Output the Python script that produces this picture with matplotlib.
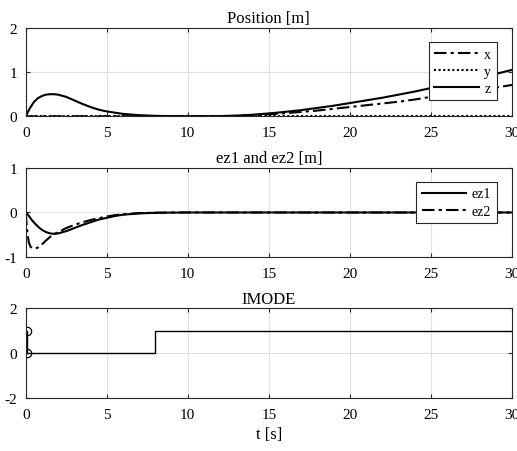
import matplotlib

matplotlib.use("Agg")
import matplotlib.pyplot as plt

plt.rcParams["font.family"] = ["Liberation Serif", "DejaVu Serif"]
plt.rcParams["font.size"] = 10
plt.rcParams["axes.unicode_minus"] = False  # reference uses plain hyphens

# --- data ---
t_pos = [0, 0.25, 0.5, 0.75, 1, 1.25, 1.5, 1.75, 2, 2.5, 3, 3.5, 4, 4.5, 5, 6, 7, 8,
         9, 10, 11, 12, 13, 14, 15, 16, 17, 18, 19, 20, 21, 22, 23, 24, 25, 26, 27,
         28, 29, 30]
pos_x = [0, 0, 0, 0, 0, 0, 0, 0, 0, 0, 0, 0, 0, 0, 0, 0, 0, 0,
         0, 0, 0, 0.005, 0.01, 0.025, 0.045, 0.07, 0.1, 0.13, 0.17, 0.21, 0.25, 0.29,
         0.33, 0.38, 0.44, 0.49, 0.55, 0.6, 0.65, 0.71]
pos_y = [0] * len(t_pos)
pos_z = [0, 0.18, 0.32, 0.41, 0.46, 0.49, 0.5, 0.5, 0.49, 0.44, 0.36, 0.28, 0.21,
         0.15, 0.11, 0.055, 0.025, 0.01, 0.003, 0, 0, 0.005, 0.015, 0.035, 0.065,
         0.1, 0.14, 0.19, 0.24, 0.3, 0.36, 0.42, 0.49, 0.56, 0.64, 0.72, 0.8, 0.88,
         0.96, 1.05]

t_ez = [0, 0.1, 0.2, 0.3, 0.4, 0.5, 0.6, 0.8, 1, 1.25, 1.5, 1.75, 2, 2.5, 3, 3.5,
        4, 4.5, 5, 5.5, 6, 7, 8, 9, 10, 15, 20, 25, 30]
ez1 = [0, -0.03, -0.08, -0.13, -0.18, -0.22, -0.26, -0.33, -0.39, -0.44, -0.47,
       -0.48, -0.47, -0.42, -0.35, -0.28, -0.22, -0.16, -0.12, -0.08, -0.05, -0.02,
       -0.008, -0.003, 0, 0, 0, 0, 0]
ez2 = [0, -0.45, -0.68, -0.77, -0.8, -0.81, -0.81, -0.78, -0.72, -0.63, -0.55,
       -0.49, -0.44, -0.35, -0.28, -0.22, -0.17, -0.13, -0.09, -0.06, -0.04, -0.015,
       -0.005, -0.002, 0, 0, 0, 0, 0]

t_mode = [0, 0.05, 0.05, 8, 8, 30]
imode = [1, 1, 0, 0, 1, 1]
t_mark = [0.05, 0.05]
mark_vals = [1, 0]

x_ticks = [0, 5, 10, 15, 20, 25, 30]

fig = plt.figure(figsize=(5.17, 4.52), dpi=100)
left, width = 0.0497, 0.9406
ax1 = fig.add_axes([left, 0.7405, width, 0.1954])
ax2 = fig.add_axes([left, 0.4292, width, 0.197])
ax3 = fig.add_axes([left, 0.1173, width, 0.1985])

dashdot = (0, (6, 2, 1.5, 2))

ax1.plot(t_pos, pos_x, color="k", lw=1.5, linestyle=dashdot, label="x")
ax1.plot(t_pos, pos_y, color="k", lw=1.5, linestyle=(0, (1, 1.2)), label="y")
ax1.plot(t_pos, pos_z, color="k", lw=1.5, label="z")
ax1.set_ylim(0, 2)
ax1.set_yticks([0, 1, 2])
ax1.set_title("Position [m]", pad=4, fontsize=12)

ax2.plot(t_ez, ez1, color="k", lw=1.5, label="ez1")
ax2.plot(t_ez, ez2, color="k", lw=1.5, linestyle=dashdot, label="ez2")
ax2.set_ylim(-1, 1)
ax2.set_yticks([-1, 0, 1])
ax2.set_title("ez1 and ez2 [m]", pad=4, fontsize=12)

ax3.plot(t_mode, imode, color="k", lw=1.0)
ax3.plot(t_mark, mark_vals, "o", mfc="none", mec="k", ms=6, mew=0.9)
ax3.set_ylim(-2, 2)
ax3.set_yticks([-2, 0, 2])
ax3.set_title("IMODE", pad=4, fontsize=12)
ax3.set_xlabel("t [s]", labelpad=4, fontsize=12)

for ax in (ax1, ax2, ax3):
    ax.set_xlim(0, 30)
    ax.set_xticks(x_ticks)
    ax.grid(True, color="#e0e0e0", lw=0.8)
    ax.set_axisbelow(True)
    ax.tick_params(direction="in", top=True, right=True, length=3,
                   labelsize=11, color="#262626")
    ax.xaxis.set_tick_params(pad=7)
    ax.yaxis.set_tick_params(pad=6)
    for s in ax.spines.values():
        s.set_color("#262626")
        s.set_linewidth(0.8)

leg_style = dict(loc="upper right", fancybox=False, edgecolor="#262626",
                 framealpha=1, handlelength=3.2, fontsize=10, labelspacing=0.3,
                 borderpad=0.4, handletextpad=0.4, borderaxespad=0)
leg1 = ax1.legend(bbox_to_anchor=(0.969, 0.841), **leg_style)
leg1.get_frame().set_linewidth(0.8)
leg2 = ax2.legend(bbox_to_anchor=(0.969, 0.843), **leg_style)
leg2.get_frame().set_linewidth(0.8)

fig.savefig("out.png", dpi=100, facecolor="white")
